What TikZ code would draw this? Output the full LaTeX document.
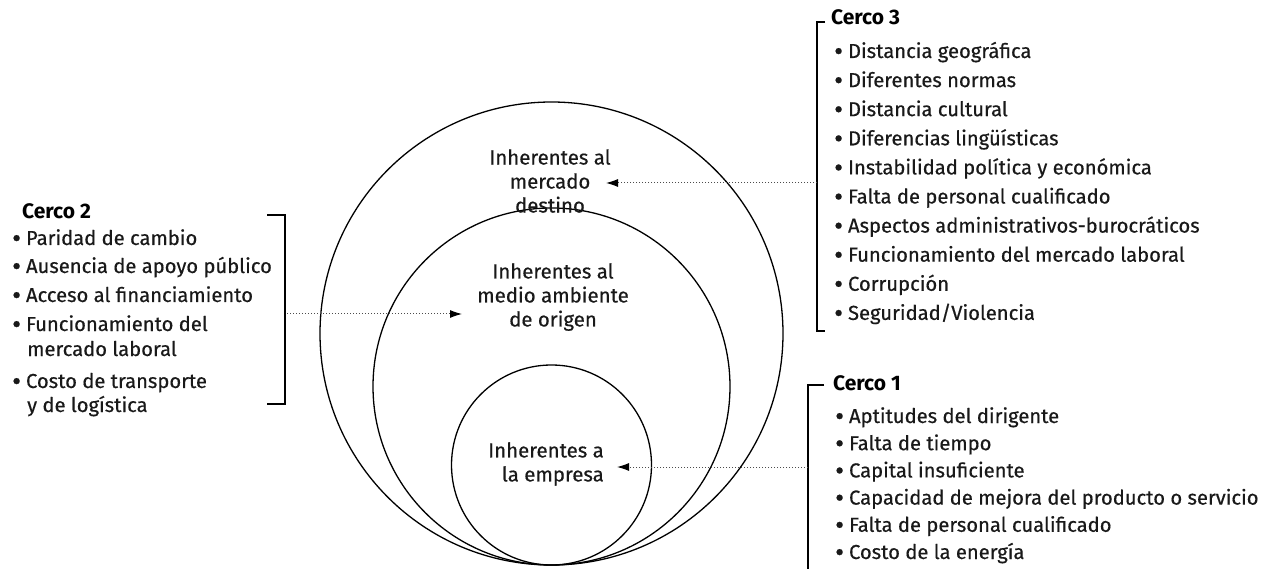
\documentclass[tikz,border=0pt]{standalone}
\usepackage{fontspec}
\setmainfont{Fira Sans}
\newfontfamily\medfont{Fira Sans}[FakeBold=0.5]
\newcommand{\bul}{\raisebox{-0.12em}{\scalebox{1.35}{•}}\hspace{5pt}}
\usetikzlibrary{arrows.meta}
\begin{document}
\begin{tikzpicture}[x=1pt,y=-1pt,
  lbl/.style={anchor=base west, inner sep=0pt, font=\medfont\fontsize{20.2}{22}\selectfont, text=black!90},
  ttl/.style={anchor=base west, inner sep=0pt, font=\fontsize{21}{22}\selectfont\bfseries},
  ring/.style={circle, draw, line width=1.3pt, inner sep=0pt},
  mid/.style={align=center, inner sep=0pt, font=\medfont\fontsize{20.4}{24}\selectfont, text=black!90},
  brk/.style={line width=1.3pt},
  dots/.style={dotted, line width=1pt, black!70, -{Latex[length=12pt,width=8pt,black]}}
]
\useasboundingbox (0,0) rectangle (1272,569);
% circles
\node[ring, minimum size=463] (outer) at (551.5,333.5) {};
\node[ring, minimum size=357] (middle) at (551.5,386.5) {};
\node[ring, minimum size=200] (inner) at (551.5,465) {};
% center labels
\node[mid] (l3) at (550,181) {Inherentes al\\mercado\\destino};
\node[mid] (l2) at (553,297) {Inherentes al\\medio ambiente\\de origen};
\node[mid, align=right] (l1) at (546,464) {Inherentes a\\la empresa};
% Cerco 3
\node[ttl] (c3t) at (831,25) {Cerco 3};
\foreach \t [count=\i] in {Distancia geográfica,Diferentes normas,Distancia cultural,Diferencias lingüísticas,Instabilidad política y económica,Falta de personal cualificado,Aspectos administrativos-burocráticos,Funcionamiento del mercado laboral,Corrupción,Seguridad/Violencia}
  \node[lbl] (c3-\i) at (834,{51+7+29.1*(\i-1)}) {\bul\t};
\draw[brk] (825,22) -- (817,22) -- (817,331) -- (825,331);
\coordinate (b3) at (817,183);
\coordinate (a3) at (606,183);
\draw[dots] (b3) -- (a3);
% Cerco 2
\node[ttl] (c2t) at (22,219) {Cerco 2};
\node[lbl] (c2-1) at (12,245) {\bul Paridad de cambio};
\node[lbl] (c2-2) at (12,273) {\bul Ausencia de apoyo público};
\node[lbl] (c2-3) at (12,302) {\bul Acceso al financiamiento};
\node[lbl] (c2-4) at (12,331) {\bul Funcionamiento del};
\node[lbl] (c2-4b) at (27,356) {mercado laboral};
\node[lbl] (c2-5) at (12,388) {\bul Costo de transporte};
\node[lbl] (c2-5b) at (27,412) {y de logística};
\draw[brk] (267,215) -- (285,215) -- (285,404) -- (267,404);
\coordinate (b2) at (287,314);
\coordinate (a2) at (462,314);
\draw[dots] (b2) -- (a2);
% Cerco 1
\node[ttl] (c1t) at (833,390) {Cerco 1};
\foreach \t [count=\i] in {Aptitudes del dirigente,Falta de tiempo,Capital insuficiente,Capacidad de mejora del producto o servicio,Falta de personal cualificado,Costo de la energía}
  \node[lbl] (c1-\i) at (835,{423+27.2*(\i-1)}) {\bul\t};
\draw[brk] (824,385) -- (808,385) -- (808,572);
\coordinate (b1) at (808,467);
\coordinate (a1) at (617,467);
\draw[dots] (b1) -- (a1);
\end{tikzpicture}
\end{document}
